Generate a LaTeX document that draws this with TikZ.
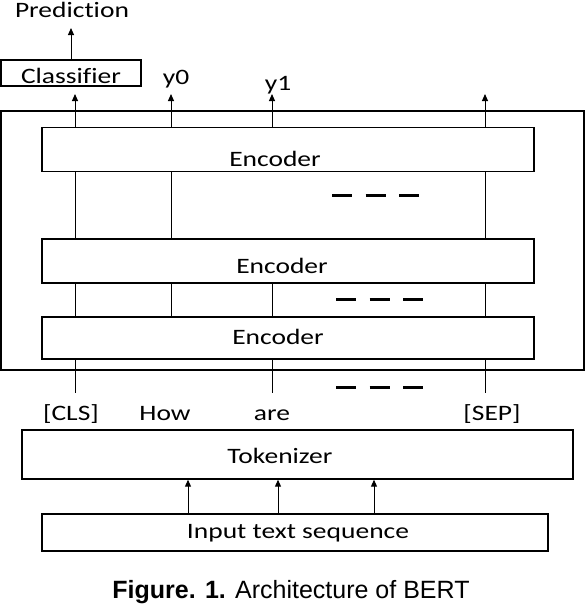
\documentclass[tikz,border=0pt]{standalone}
\usepackage{graphicx}
\usepackage{fontspec}
\setmainfont{Carlito}[Ligatures=NoCommon]
\newfontfamily\capfont{Liberation Sans}
\usetikzlibrary{arrows.meta}
\newcommand{\wide}[1]{\scalebox{1.25}[1]{#1}}
\tikzset{%
        >={Triangle[length=7pt,width=6pt]},
        x=1pt,
        y=-1pt
}
\tikzstyle{block}=[
    draw = black,
    line width = 1.4pt,
    inner sep = 0pt
]
\tikzstyle{word}=[
    anchor = base,
    inner sep = 0pt,
    font = \fontsize{22}{26}\selectfont
]
\tikzstyle{dots}=[
    line width = 3pt,
    dash pattern = on 20pt off 13.5pt
]
\tikzstyle{every edge}=[
    draw = black,
    line width = 1pt
]

\begin{document}
\begin{tikzpicture}
    \useasboundingbox (0,0) rectangle (586,606);
    % boxes
    \node[block, line width=1.5pt, minimum width=583pt, minimum height=259pt] (bert) at (292.5,240.5) {};
    \node[block, minimum width=140pt, minimum height=26pt] (cls) at (71,73) {};
    \node[block, minimum width=492pt, minimum height=44pt] (enc3) at (288,149.5) {};
    \node[block, minimum width=492pt, minimum height=44pt] (enc2) at (288,261) {};
    \node[block, minimum width=492pt, minimum height=42pt] (enc1) at (288,338) {};
    \node[block, minimum width=551pt, minimum height=49pt] (tok) at (297.5,454.5) {};
    \node[block, minimum width=506pt, minimum height=37pt] (inp) at (295,532.5) {};
    % texts
    \node[word] (pred) at (72,17) {\wide{Prediction}};
    \node[word] (clsl) at (71,83) {\wide{Classifier}};
    \node[word] (y0) at (176,84) {\wide{y0}};
    \node[word] (y1) at (278,90) {\wide{y1}};
    \node[word] (enc3l) at (275,166) {\wide{Encoder}};
    \node[word] (enc2l) at (282,273) {\wide{Encoder}};
    \node[word] (enc1l) at (278,344) {\wide{Encoder}};
    \node[word] (w0) at (71,420) {\wide{[CLS]}};
    \node[word] (w1) at (165,420) {\wide{How}};
    \node[word] (w2) at (272,420) {\wide{are}};
    \node[word] (w3) at (492,420) {\wide{[SEP]}};
    \node[word] (tokl) at (280,463) {\wide{Tokenizer}};
    \node[word] (inpl) at (298,538) {\wide{Input text sequence}};
    \node[anchor=base, inner sep=0pt, font=\capfont\fontsize{25}{30}\selectfont] (fig) at (291,598)
        {\textbf{Figure. 1.} Architecture of BERT};
    % ends of the connectors
    \coordinate (p) at (71,28);
    \coordinate (t0) at (75,94);
    \coordinate (t1) at (171,94);
    \coordinate (t2) at (272,94);
    \coordinate (t3) at (485,94);
    \coordinate (b0) at (75,393);
    \coordinate (b2) at (272,393);
    \coordinate (b3) at (485,393);
    \coordinate (i0) at (188,514);
    \coordinate (i1) at (278,514);
    \coordinate (i2) at (374,514);
    \path[->]
        (cls.north) edge (p)
        (enc3.north -| t0) edge (t0)
        (enc3.north -| t1) edge (t1)
        (enc3.north -| t2) edge (t2)
        (enc3.north -| t3) edge (t3)
        (inp.north -| i0) edge (tok.south -| i0)
        (inp.north -| i1) edge (tok.south -| i1)
        (inp.north -| i2) edge (tok.south -| i2)
        ;
    \path
        (enc3.south -| t0) edge (enc2.north -| t0)
        (enc3.south -| t1) edge (enc2.north -| t1)
        (enc3.south -| t3) edge (enc2.north -| t3)
        (enc2.south -| t0) edge (enc1.north -| t0)
        (enc2.south -| t1) edge (enc1.north -| t1)
        (enc2.south -| t2) edge (enc1.north -| t2)
        (enc2.south -| t3) edge (enc1.north -| t3)
        (enc1.south -| b0) edge (b0)
        (enc1.south -| b2) edge (b2)
        (enc1.south -| b3) edge (b3)
        ;
    % dashes
    \draw[dots] (332,195) -- (420,195);
    \draw[dots] (336,299) -- (423,299);
    \draw[dots] (336,387) -- (423,387);
\end{tikzpicture}
\end{document}
